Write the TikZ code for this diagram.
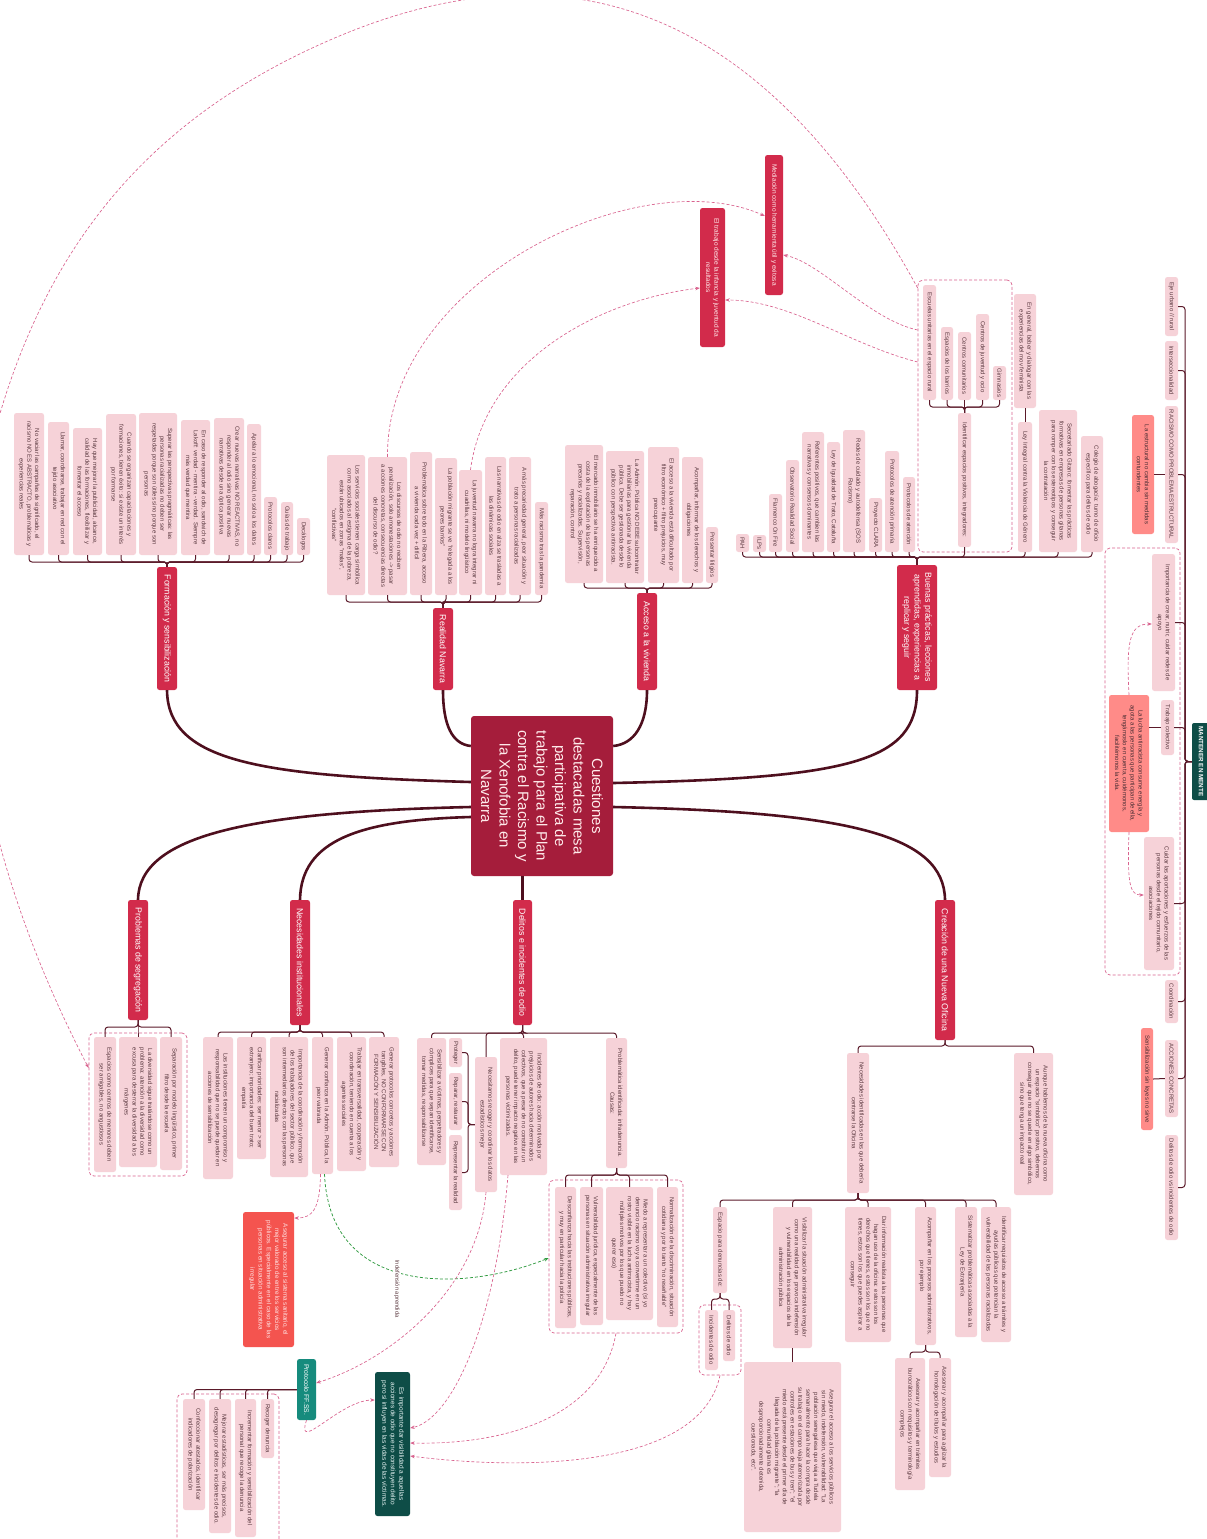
\documentclass[tikz,border=0pt]{standalone}
\usepackage{fontspec}
\setmainfont{Liberation Sans}
\usetikzlibrary{arrows.meta}
\definecolor{leafc}{HTML}{F6D2D8}
\definecolor{leaftxt}{HTML}{5C3A41}
\definecolor{crimc}{HTML}{D22B4B}
\definecolor{centralc}{HTML}{A51D3B}
\definecolor{salmonc}{HTML}{FF8B88}
\definecolor{redboxc}{HTML}{F4544F}
\definecolor{tealc}{HTML}{168B7D}
\definecolor{dkgreenc}{HTML}{0E4D47}
\definecolor{maroonc}{HTML}{4E0F1E}
\definecolor{brc}{HTML}{5B1A2A}
\definecolor{dpinkc}{HTML}{D9628E}
\definecolor{dgreenc}{HTML}{2F9A3F}
\tikzset{
 leafbox/.style={rotate=-90, fill=leafc, text=leaftxt, rounded corners=2.5pt, inner xsep=2pt, inner ysep=1.5pt, align=center, font=\fontsize{6}{7.8}\selectfont},
 crimbox/.style={rotate=-90, fill=crimc, text=white, rounded corners=2.5pt, inner sep=2pt, align=center, font=\fontsize{8.8}{10.6}\selectfont},
 crimsmall/.style={rotate=-90, fill=crimc, text=white!92!red, rounded corners=2.5pt, inner sep=2pt, align=center, font=\fontsize{6.5}{8.2}\selectfont},
 salbox/.style={rotate=-90, fill=salmonc, text=leaftxt!80!black, rounded corners=2.5pt, inner sep=1.5pt, align=center, font=\fontsize{6}{7.8}\selectfont},
 redbox/.style={rotate=-90, fill=redboxc, text=white!88!red, rounded corners=2.5pt, inner sep=2pt, align=center, font=\fontsize{6.3}{8.2}\selectfont},
 tealbox/.style={rotate=-90, fill=tealc, text=white, rounded corners=2.5pt, inner sep=2pt, align=center, font=\fontsize{6.8}{8.5}\selectfont},
 greenbox/.style={rotate=-90, fill=dkgreenc, text=white!90!teal, rounded corners=2.5pt, inner sep=2pt, align=center, font=\fontsize{6.5}{8.5}\selectfont},
 centralbox/.style={rotate=-90, fill=centralc, text=white!92!red, rounded corners=3pt, inner sep=3pt, align=center, font=\fontsize{15}{18.5}\selectfont},
 mentebox/.style={rotate=-90, fill=dkgreenc, text=white, rounded corners=2pt, inner sep=1.5pt, align=center, font=\fontsize{6.3}{7.5}\selectfont\bfseries},
 grp/.style={draw=dpinkc, dashed, dash pattern=on 3pt off 2pt, line width=0.7pt, rounded corners=5pt, inner sep=0pt, fill=none},
 br/.style={draw=brc, line width=1pt, rounded corners=3pt},
 mainln/.style={draw=maroonc, line width=2.6pt},
 xlink/.style={draw=dpinkc, dash pattern=on 3pt off 2pt, line width=0.65pt, -{Stealth[length=4.5pt,width=3.5pt]}},
 glink/.style={draw=dgreenc, dash pattern=on 3pt off 2pt, line width=0.75pt, -{Stealth[length=4.5pt,width=3.5pt]}},
 lblnode/.style={rotate=-90, fill=white, text=leaftxt, inner sep=1pt, font=\fontsize{5.8}{7}\selectfont}
}
\newcommand\BX[7]{\node[#1, minimum width={(#6-#4)*1pt}, minimum height={(#5-#3)*1pt}] (#2) at ({(#3+#5)/2},{(#4+#6)/2}) {#7};}
\newcommand\GB[5]{\node[grp, minimum width={(#4-#2)*1pt}, minimum height={(#5-#3)*1pt}] (#1) at ({(#2+#4)/2},{(#3+#5)/2}) {};}
\begin{document}
\begin{tikzpicture}[x=1pt,y=-1pt]
\path[use as bounding box] (0,0) rectangle (1207,1539);
\clip (0,0) rectangle (1207,1539);
\fill[white] (0,0) rectangle (1207,1539);

% ---------- group frames ----------
\GB{gE}{918}{280}{1012}{552}
\GB{gM}{1105}{548}{1180}{975}
\GB{gP}{89}{1033}{187}{1176}
\GB{gD4}{549}{1180}{683}{1333}
\GB{gC1a}{699}{1305}{741}{1375}
\GB{gFF}{177}{1394}{279}{1548}

% ---------- central ----------
\BX{centralbox}{Z}{471}{716}{613}{876}{Cuestiones\\destacadas mesa\\participativa de\\trabajo para el Plan\\contra el Racismo y\\la Xenofobia en\\Navarra}

% ---------- level 1 ----------
\BX{crimbox}{F}{157}{567}{177}{690}{Formación y sensibilización}
\BX{crimbox}{R}{433}{608}{453}{690}{Realidad Navarra}
\BX{crimbox}{A}{637}{593}{657}{690}{Acceso a la vivienda}
\BX{crimbox}{B}{897}{565}{937}{690}{Buenas prácticas, lecciones\\aprendidas, experiencias a\\replicar y seguir}
\BX{crimbox}{P}{128}{900}{148}{1020}{Problemas de segregación}
\BX{crimbox}{N}{290}{900}{310}{1025}{Necesidades institucionales}
\BX{crimbox}{D}{513}{900}{532}{1025}{Delitos e incidentes de odio}
\BX{crimbox}{C}{935}{900}{955}{1040}{Creación de una Nueva Oficina}
\BX{crimsmall}{med}{765}{155}{783}{295}{Mediación como herramienta útil y exitosa}
\BX{crimsmall}{tr}{700}{208}{725}{347}{El trabajo desde la infancia y juventud da\\resultados}
\BX{mentebox}{M}{1192}{723}{1210}{800}{MANTENER EN MENTE}

% ---------- main connectors ----------
\draw[mainln] (Z.south |- 0,782) .. controls (260,776) and (168,762) .. (F.east);
\draw[mainln] (Z.south |- 0,746) .. controls (452,744) and (443,725) .. (R.east);
\draw[mainln] (Z.north |- 0,746) .. controls (634,744) and (647,725) .. (A.east);
\draw[mainln] (Z.north |- 0,783) .. controls (850,778) and (917,762) .. (B.east);
\draw[mainln] (Z.south |- 0,807) .. controls (250,812) and (139,835) .. (P.west);
\draw[mainln] (Z.south |- 0,817) .. controls (360,820) and (301,840) .. (N.west);
\draw[mainln] (Z.east -| D.west) -- (D.west);
\draw[mainln] (Z.north |- 0,807) .. controls (850,812) and (944,835) .. (C.west);

% ---------- Formacion ----------
\BX{leafbox}{f1}{14}{413}{44}{555}{No vaciar las campañas de significado, el\\racismo NO ES ABSTRACTO, problemáticas y\\experiencias reales}
\BX{leafbox}{f2}{48}{422}{69}{555}{Llamar, coordinarse, trabajar en red con el\\tejido asociativo}
\BX{leafbox}{f3}{73}{428}{102}{555}{Hay que mejorar la publicidad, alcance,\\calidad de las formaciones, flexibilizar y\\fomentar el acceso}
\BX{leafbox}{f4}{106}{414}{136}{555}{Cuando se organizan capacitaciones y\\formaciones, tienen éxito: si existe un interés\\por formarse}
\BX{leafbox}{f5}{139}{413}{177}{555}{Superar las perspectivas pragmáticas: las\\personas racializadas no deben ser\\respetadas porque son útiles sino porque son\\personas}
\BX{leafbox}{f6}{181}{420}{210}{555}{En caso de responder al odio, sandwich de\\Lakoff: verdad - mentira - verdad. Siempre\\más verdad que mentira}
\BX{leafbox}{f7}{214}{418}{244}{555}{Crear nuevas narrativas NO REACTIVAS, no\\responder al odio sino generar nuevas\\narrativas desde una óptica positiva}
\BX{leafbox}{f8}{247}{424}{261}{555}{Apelar a lo emocional, no solo a los datos}
\BX{leafbox}{f9}{264}{497}{277}{555}{Protocolos claros}
\BX{leafbox}{f10}{281}{502}{293}{555}{Guías de trabajo}
\BX{leafbox}{f11}{297}{518}{310}{555}{Decálogos}
\coordinate (Fj) at (167,562);
\foreach \n in {f1,f2,f3,f4,f5,f6,f7,f8,f9,f10,f11} \draw[br] (\n.east) |- (Fj) -- (F.west);

% ---------- Realidad Navarra ----------
\BX{leafbox}{r1}{327}{455}{365}{595}{Los servicios sociales tienen carga simbólica\\como asociados al estigma de la pobreza,\\están ubicados en zonas "malas",\\"conflictivas"}
\BX{leafbox}{r2}{368}{457}{407}{595}{Los discursos de odio no reciben\\penalización, solo amonestaciones -> pasar\\a acciones concretas, consecuencias directas\\del discurso de odio?}
\BX{leafbox}{r3}{410}{452}{432}{595}{Problemática sobre todo en la Ribera, acceso\\a vivienda cada vez + difícil}
\BX{leafbox}{r4}{435}{458}{457}{595}{La población migrante se ve "relegada a los\\peores barrios"}
\BX{leafbox}{r5}{459}{470}{482}{595}{La juventud navarra no logra integrar ni\\cuadrillas, ni modelo lingüístico}
\BX{leafbox}{r6}{485}{457}{506}{595}{Las narrativas de odio en alza se trasladas a\\las dinámicas sociales}
\BX{leafbox}{r7}{509}{457}{531}{595}{A más precariedad general, peor situación y\\trato a personas racializadas}
\BX{leafbox}{r8}{535}{502}{548}{595}{Más racismo tras la pandemia}
\coordinate (Rj) at (443,602);
\foreach \n in {r1,r2,r3,r4,r5,r6,r7,r8} \draw[br] (\n.east) |- (Rj) -- (R.west);

% ---------- Acceso vivienda ----------
\BX{leafbox}{a1}{565}{445}{603}{583}{El mercado inmobiliario se ha enriquecido a\\costa de la explotación de las personas\\precarias y racializadas. Supervisión,\\reparación, control}
\BX{leafbox}{a2}{606}{451}{644}{583}{La Admón. Pública NO DEBE subcontratar\\inmobiliarias para gestionar la vivienda\\pública. Debe ser gestionada desde lo\\público con perspectiva antirracista.}
\BX{leafbox}{a3}{648}{447}{679}{583}{El acceso a la vivienda está dificultado por\\filtro económico + filtro prejuicios, muy\\preocupante}
\BX{leafbox}{a4}{682}{457}{703}{583}{Acompañar, informar de los derechos y\\obligaciones}
\BX{leafbox}{a5}{706}{527}{718}{583}{Presentar litigios}
\coordinate (Aj) at (647,588);
\foreach \n in {a1,a2,a3,a4,a5} \draw[br] (\n.east) |- (Aj) -- (A.west);

% ---------- Buenas practicas ----------
\BX{leafbox}{b1}{736}{534}{749}{552}{PAH}
\BX{leafbox}{b2}{753}{535}{766}{552}{ILPs}
\BX{leafbox}{b3}{769}{494}{782}{552}{Flamenco On Fire}
\BX{leafbox}{b4}{786}{460}{799}{552}{Observatorio Realidad Social}
\BX{leafbox}{b5}{802}{432}{824}{552}{Referentes positivos, que cambien las\\narrativas y consensos dominantes}
\BX{leafbox}{b6}{827}{442}{840}{552}{Ley de Igualdad de Trato, Cataluña}
\BX{leafbox}{b7}{843}{430}{865}{552}{Redes de cuidado y autodefensa (SOS\\Racismo)}
\BX{leafbox}{b8}{869}{498}{882}{552}{Proyecto CLARA}
\BX{leafbox}{b9}{885}{451}{899}{552}{Protocolos de atención primaria}
\BX{leafbox}{b10}{903}{477}{915}{552}{Protocolos de atención}
\BX{leafbox}{b11}{958}{413}{971}{547}{Identificar espacios positivos, integradores:}
\BX{leafbox}{b12}{1018}{422}{1032}{552}{Ley Integral contra la Violencia de Género}
\BX{leafbox}{b13}{1039}{410}{1077}{552}{Secretariado Gitano: fomentar las prácticas\\formativas en empresas de personas gitanas\\para romper con los estereotipos y conseguir\\la contratación}
\BX{leafbox}{b14}{1081}{436}{1103}{552}{Colegio de abogacía: turno de oficio\\específico para delitos de odio}
\coordinate (Bj) at (917,557);
\foreach \n in {b1,b2,b3,b4,b5,b6,b7,b8,b9,b10,b11,b12,b13,b14} \draw[br] (\n.east) |- (Bj) -- (B.west);
\BX{leafbox}{b11a}{923}{285}{936}{400}{Escuelas unitarias en el espacio rural}
\BX{leafbox}{b11b}{941}{327}{953}{400}{Espacios de los barrios}
\BX{leafbox}{b11c}{958}{332}{971}{400}{Centros comunitarios}
\BX{leafbox}{b11d}{976}{314}{989}{400}{Centros de juventud y ocio}
\BX{leafbox}{b11e}{993}{366}{1006}{400}{Gimnasios}
\coordinate (B11j) at (964.5,407);
\foreach \n in {b11a,b11b,b11c,b11d,b11e} \draw[br] (\n.east) |- (B11j) -- (b11.west);
\BX{leafbox}{b12a}{1014}{294}{1036}{408}{En general, beber y dialogar con las\\experiencias del mov feminista}
\draw[br] (b12.west) -- (b12a.east);

% ---------- Mantener en mente ----------
\BX{leafbox}{m1}{1165}{277}{1178}{336}{Eje urbano // rural}
\BX{leafbox}{m2}{1165}{341}{1178}{400}{Interseccionalidad}
\BX{leafbox}{m3}{1165}{406}{1178}{543}{RACISMO COMO PROBLEMA ESTRUCTURAL}
\BX{salbox}{m3a}{1132}{415}{1154}{534}{La estructural no cambia sin medidas\\contundentes}
\BX{leafbox}{m4}{1152}{554}{1175}{691}{Importancia de crear, nutrir, cuidar redes de\\apoyo}
\BX{leafbox}{m5}{1161}{700}{1174}{755}{Trabajo colectivo}
\BX{salbox}{m5a}{1109}{695}{1149}{832}{La lucha antirracista consume energía y\\agota a las personas que participan de ella,\\tengámoslo en cuenta, cuidémonos,\\facilitémonos la vida.}
\BX{leafbox}{m6}{1144}{837}{1174}{970}{Cuidar las aportaciones y esfuerzos de las\\personas desde el tejido comunitario,\\asociaciones}
\BX{leafbox}{m7}{1165}{980}{1178}{1023}{Coordinación}
\BX{leafbox}{m8}{1165}{1040}{1178}{1117}{ACCIONES CONCRETAS}
\BX{salbox}{m8a}{1141}{1028}{1153}{1130}{Sensibilización sin leyes no sirve}
\BX{leafbox}{m9}{1165}{1135}{1178}{1240}{Delitos de odio vs incidentes de odio}
\coordinate (Mj) at (1185,761.5);
\foreach \n in {m1,m2,m3,m4,m5,m6,m7,m8,m9} \draw[br] (\n.north) -| (Mj) -- (M.south);
\draw[br] (m3a.north) -- (m3.south);
\draw[br] (m8a.north) -- (m8.south);
\draw[br] (m5a.north |- m5.south) -- (m5.south);

% ---------- Problemas segregacion ----------
\BX{leafbox}{p1}{94}{1037}{116}{1172}{Espacios como centros de menores deben\\ser amigables, no angustiosos}
\BX{leafbox}{p2}{119}{1037}{157}{1167}{La diversidad sigue tratándose como un\\problema: atención a la diversidad como\\excusa para desterrar la diversidad a los\\márgenes}
\BX{leafbox}{p3}{160}{1037}{182}{1170}{Separación por modelo lingüístico, primer\\filtro desde la escuela}
\coordinate (Pj) at (138,1027);
\foreach \n in {p1,p2,p3} \draw[br] (\n.west) |- (Pj) -- (P.east);

% ---------- Necesidades institucionales ----------
\BX{leafbox}{n1}{203}{1037}{233}{1179}{Las instituciones tienen un compromiso y\\responsabilidad que no se puede quedar en\\acciones de sensibilización}
\BX{leafbox}{n2}{237}{1037}{266}{1159}{Clarificar prioridades: ser menor > ser\\extranjero; importancia del buen trato;\\empatía}
\BX{leafbox}{n3}{270}{1037}{308}{1177}{Importancia de la coordinación y formación\\de los trabajadores del sector público, que\\son intermediarios directos con las personas\\racializadas}
\BX{leafbox}{n4}{312}{1037}{333}{1174}{Generar confianza en la Admón. Pública, la\\peor valorada}
\BX{leafbox}{n5}{337}{1037}{366}{1171}{Trabajar en transversalidad, cooperación y\\coordinación, teniendo en cuenta a los\\agentes sociales}
\BX{leafbox}{n6}{369}{1037}{399}{1167}{Generar protocolos concretos y acciones\\tangibles, NO CONFORMARSE CON\\FORMACIÓN Y SENSIBILIZACIÓN}
\coordinate (Nj) at (300,1032);
\foreach \n in {n1,n2,n3,n4,n5,n6} \draw[br] (\n.west) |- (Nj) -- (N.east);

% ---------- Delitos ----------
\BX{leafbox}{d1}{417}{1038}{446}{1165}{Sensibilizar a víctimas, perpetradores y\\cómplices para que sepan identificarse,\\tomar medidas, responsabilizarse}
\BX{leafbox}{d2}{475}{1057}{497}{1192}{Necesitamos recoger y coordinar los datos\\estadísticos mejor}
\BX{leafbox}{d3}{500}{1038}{547}{1175}{Incidentes de odio: acción motivada por\\prejuicios de autores hacia determinados\\colectivos, que a pesar de no constituir un\\delito, puede tener impacto negativo en las\\personas victimizadas.}
\BX{leafbox}{d4}{606}{1038}{627}{1168}{Problemática identificada: infradenuncia.\\Causas:}
\coordinate (Dj) at (522.5,1033);
\foreach \n in {d1,d2,d3,d4} \draw[br] (\n.west) |- (Dj) -- (D.east);
\BX{leafbox}{d2a}{449}{1038}{462}{1067}{Proteger}
\BX{leafbox}{d2b}{449}{1073}{462}{1130}{Reparar, restaurar}
\BX{leafbox}{d2c}{449}{1135}{462}{1210}{Representar la realidad}
\coordinate (D2j) at (468,1124.5);
\foreach \n in {d2a,d2b,d2c} \draw[br] (\n.north) -| (D2j) -- (d2.south);
\BX{leafbox}{d4a}{555}{1187}{576}{1328}{Desconfianza hacia las instituciones públicas,\\y muy en particular hacia la policía}
\BX{leafbox}{d4b}{580}{1187}{603}{1325}{Vulnerabilidad jurídica, especialmente de las\\personas en situación administrativa irregular}
\BX{leafbox}{d4c}{606}{1187}{653}{1320}{Miedo a representar a un colectivo (si yo\\denuncio racismo voy a convertirme en un\\rostro visible en la lucha antirracista, y hay\\múltiples motivos por los que puedo no\\querer eso)}
\BX{leafbox}{d4d}{657}{1187}{678}{1327}{Normalización de la discriminación, situación\\cotidiana y por lo tanto "no reseñable"}
\coordinate (D4j) at (616.5,1175);
\foreach \n in {d4a,d4b,d4c,d4d} \draw[br] (\n.west) |- (D4j) -- (d4.east);

% ---------- Creacion Nueva Oficina ----------
\BX{leafbox}{c1}{847}{1053}{869}{1193}{Necesidades identificadas en las que debería\\centrarse la Oficina}
\BX{leafbox}{c2}{1014}{1053}{1053}{1195}{Aunque hablemos de la nueva oficina como\\un espacio "simbólico" positivo, debemos\\conseguir que no se quede en algo simbólico,\\sino que tenga un impacto real}
\coordinate (Cj) at (945,1046);
\foreach \n in {c1,c2} \draw[br] (\n.west) |- (Cj) -- (C.east);
\BX{leafbox}{c1a}{713}{1207}{727}{1293}{Espacio para denuncias de:}
\BX{leafbox}{c1b}{773}{1207}{812}{1348}{Visibilizar la situación administrativa irregular\\como una realidad que provoca indefensión\\y vulnerabilidad en los espacios de la\\administración pública}
\BX{leafbox}{c1c}{845}{1207}{891}{1342}{Dar información realista a las personas que\\hagan uso de la oficina: estos son los\\derechos que tienes, estos son los que no\\tienes, estos son los que puedes aspirar a\\conseguir}
\BX{leafbox}{c1d}{915}{1207}{936}{1345}{Acompañar en los procesos administrativos,\\por ejemplo}
\BX{leafbox}{c1e}{955}{1207}{977}{1337}{Sistematizar problemáticas asociadas a la\\Ley de Extranjería}
\BX{leafbox}{c1f}{981}{1207}{1011}{1342}{Identificar requisitos de acceso a trámites y\\ayudas públicas que potencian la\\vulnerabilidad de las personas racializadas}
\coordinate (C1j) at (858,1200);
\foreach \n in {c1a,c1b,c1c,c1d,c1e,c1f} \draw[br] (\n.west) |- (C1j) -- (c1.east);
\BX{leafbox}{c1a1}{723}{1310}{735}{1361}{Delitos de odio}
\BX{leafbox}{c1a2}{705}{1310}{718}{1370}{Incidentes de odio}
\coordinate (C1aj) at (720,1299);
\foreach \n in {c1a1,c1a2} \draw[br] (\n.west) |- (C1aj) -- (c1a.east);
\BX{leafbox}{c1b1}{744}{1362}{841}{1532}{Asegurar el acceso a los servicios públicos\\sin miedo, indefensión, vulnerabilidad: "La\\población senegalesa que viaja a Tudela\\semanalmente para hacer la compra desde\\su trabajo en el campo viaja atemorizada por\\controles en estaciones de bus y tren"; "el\\miedo está presente desde el primer día de\\llegada de la población migrante"; "la\\comunidad gitana es\\desproporcionadamente detenida,\\cuestionada, etc".}
\draw[br] (c1b.east) -- (c1b1.west);
\BX{leafbox}{c1d1}{895}{1358}{925}{1490}{Asesorar y acompañar en trámites\\burocráticos con requisitos y terminología\\complejos}
\BX{leafbox}{c1d2}{929}{1358}{951}{1477}{Asesorar y acompañar para agilizar la\\homologación de títulos y estudios}
\coordinate (C1dj) at (925.5,1352);
\foreach \n in {c1d1,c1d2} \draw[br] (\n.west) |- (C1dj) -- (c1d.east);

% ---------- bottom left ----------
\BX{redbox}{rs}{243}{1212}{294}{1347}{Asegurar acceso al sistema sanitario, el\\mejor valorado de entre los servicios\\públicos. Especialmente en el caso de las\\personas en situación administrativa\\irregular}
\BX{tealbox}{ff}{297}{1359}{316}{1420}{Protocolo FF.SS.}
\BX{leafbox}{ff1}{261}{1399}{274}{1458}{Recoger denuncia}
\BX{leafbox}{ff2}{235}{1399}{256}{1537}{Incrementar formación y sensibilización del\\personal que recoge la denuncia}
\BX{leafbox}{ff3}{209}{1399}{231}{1533}{Mejorar estadísticas, ser más precisos,\\desagregar por delitos e incidentes de odio.}
\BX{leafbox}{ff4}{183}{1399}{205}{1510}{Confeccionar atestados, identificar\\indicadores de polarización}
\foreach \n in {ff1,ff2,ff3,ff4} \draw[br] (\n.west) |- (ff.south);
\BX{greenbox}{eg}{375}{1372}{410}{1516}{Es importante dar visibilidad a aquellas\\acciones de odio que no constituyen delito\\pero si influyen en las vidas de las víctimas.}

% ---------- cross links ----------
\draw[xlink] (gE.west |- 0,288) .. controls (760,0) and (560,-60) .. (330,40) .. controls (146,120) and (40,250) .. (-10,450) .. controls (-50,610) and (-40,820) .. (gP.west |- 0,1068);
\draw[xlink] (gE.west |- 0,330) .. controls (870,320) and (820,262) .. (med.north |- 0,255);
\draw[xlink] (gE.west |- 0,362) .. controls (850,345) and (790,300) .. (tr.north |- 0,300);
\draw[xlink] (r2.west) .. controls (386,280) and (640,160) .. (med.south |- 0,216);
\draw[xlink] (r5.west) .. controls (485,360) and (600,300) .. (tr.south |- 0,288);
\draw[xlink] (m5a.west) .. controls (1126,640) and (1130,624) .. (m4.south |- 0,624);
\draw[xlink] (m5a.east) .. controls (1127,885) and (1130,895) .. (m6.south |- 0,895);
\draw[xlink] ([xshift=-2pt]n4.east) .. controls (320,1210) and (312,1218) .. (rs.north |- 0,1218);
\draw[glink] ([xshift=2pt]n4.east) .. controls (330,1300) and (470,1290) .. (gD4.west |- 0,1258);
\node[lblnode] (ind) at (397,1289) {Indefensión aprendida};
\draw[xlink] (d2.east) .. controls (478,1290) and (390,1360) .. (ff.north |- 0,1383);
\draw[xlink] (508,0 |- d3.east) .. controls (495,1330) and (450,1420) .. (eg.north |- 0,1428);
\draw[xlink] (gD4.south) .. controls (600,1420) and (500,1445) .. (eg.north |- 0,1443);
\draw[xlink] (gC1a.south) .. controls (700,1470) and (520,1470) .. (eg.north |- 0,1456);
\draw[xlink] (ff.east) .. controls (295,1455) and (340,1400) .. (eg.south |- 0,1400);
\end{tikzpicture}
\end{document}
